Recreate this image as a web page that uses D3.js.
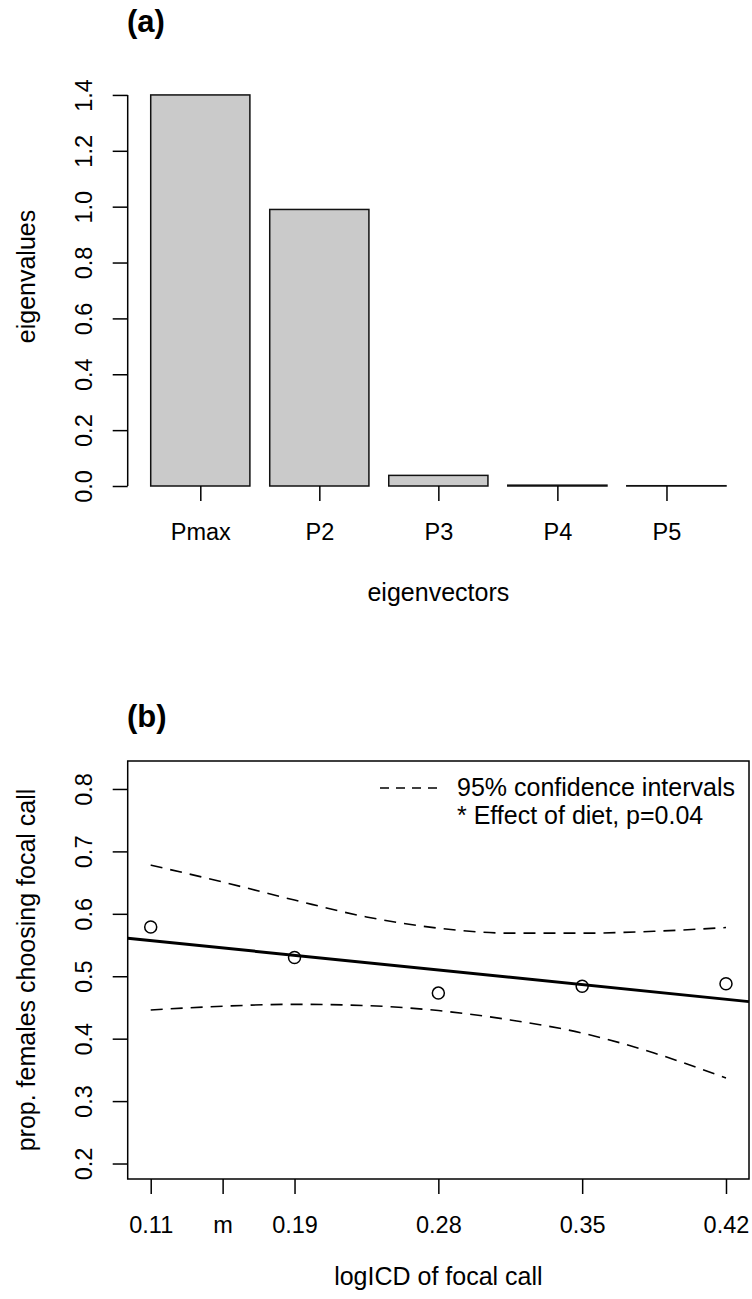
<!DOCTYPE html>
<html>
<head>
<meta charset="utf-8">
<script src="https://cdn.jsdelivr.net/npm/d3@7"></script>
<style>
  html, body { margin: 0; padding: 0; background: #fff; }
  svg { display: block; }
  text { font-family: "Liberation Sans", Arial, Helvetica, sans-serif; fill: #000; }
</style>
</head>
<body>
<svg id="chart" width="752" height="1299"></svg>
<script>
// ---- Panel (a): eigenvalues of the selection matrix ----
const eigenvectors = ["Pmax", "P2", "P3", "P4", "P5"];
const eigenvalues = [1.40, 0.99, 0.038, 0.003, 0.001];
const eigTickAt = [0.7, 1.9, 3.1, 4.3, 5.4];
const eigYTicks = [0, 0.2, 0.4, 0.6, 0.8, 1.0, 1.2, 1.4];

// ---- Panel (b): female preference vs. logICD ----
const icdTickAt = [1, 1.5, 2, 3, 4, 5];
const icdLabels = ["0.11", "m", "0.19", "0.28", "0.35", "0.42"];
const pointX = [1, 2, 3, 4, 5];
const propChoosing = [0.579, 0.530, 0.473, 0.484, 0.488];
const ciX = [1, 1.5, 2, 2.5, 3, 3.5, 4, 4.5, 5];
const ciUpper = [0.678, 0.651, 0.622, 0.595, 0.577, 0.569, 0.569, 0.572, 0.578];
const ciLower = [0.446, 0.452, 0.455, 0.453, 0.445, 0.430, 0.409, 0.377, 0.337];
const fitIntercept = 0.5806;
const fitSlope = -0.0235;
const propYTicks = [0.2, 0.3, 0.4, 0.5, 0.6, 0.7, 0.8];
const legendLines = ["95% confidence intervals", "* Effect of diet, p=0.04"];

const TICK_FONT = 23.5;
const LAB_FONT = 25;
const HEAD_FONT = 31;
const svg = d3.select("#chart");
const plotLeft = 127.7, plotRight = 749;

function styleAxis(g) {
  g.attr("font-family", null).attr("font-size", null);
  g.selectAll(".tick line").attr("stroke", "#000").attr("stroke-width", 1.5);
  g.selectAll(".tick text").style("font-size", TICK_FONT + "px");
  g.select(".domain").remove();
}

// ================= Panel (a) =================
const xA = d3.scaleLinear().domain([-0.032, 6.232]).range([plotLeft, plotRight]);
const yA = d3.scaleLinear().domain([0, 1.5]).range([486, 67]);

svg.append("text").attr("x", 127).attr("y", 32)
  .style("font-size", HEAD_FONT + "px").style("font-weight", "bold").text("(a)");

const gA = svg.append("g");
gA.selectAll("rect.bar").data(eigenvalues).join("rect")
  .attr("class", "bar")
  .attr("x", (d, i) => xA(0.2 + 1.2 * i))
  .attr("width", xA(1) - xA(0))
  .attr("y", d => yA(d))
  .attr("height", d => yA(0) - yA(d))
  .attr("fill", "#cacaca").attr("stroke", "#111").attr("stroke-width", 1.5);

// y axis
const yAxisA = gA.append("g").attr("transform", `translate(${plotLeft},0)`)
  .call(d3.axisLeft(yA).tickValues(eigYTicks).tickSize(15).tickFormat(d3.format(".1f")));
styleAxis(yAxisA);
yAxisA.selectAll(".tick text")
  .attr("transform", "rotate(-90)").attr("x", 0).attr("y", -35.7).attr("dy", null)
  .attr("text-anchor", "middle");
gA.append("line").attr("x1", plotLeft).attr("x2", plotLeft)
  .attr("y1", yA(0)).attr("y2", yA(1.4)).attr("stroke", "#000").attr("stroke-width", 1.5);

// x axis (ticks only)
const xAxisA = gA.append("g").attr("transform", `translate(0,${yA(0)})`)
  .call(d3.axisBottom(xA).tickValues(eigTickAt).tickSize(15)
    .tickFormat((d, i) => eigenvectors[i]));
styleAxis(xAxisA);
xAxisA.selectAll(".tick text").attr("y", 54).attr("dy", null);

svg.append("text").attr("x", (plotLeft + plotRight) / 2).attr("y", 601)
  .attr("text-anchor", "middle").style("font-size", LAB_FONT + "px").text("eigenvectors");
svg.append("text").attr("transform", `translate(35,${(yA(0) + yA(1.5)) / 2}) rotate(-90)`)
  .attr("text-anchor", "middle").style("font-size", LAB_FONT + "px").text("eigenvalues");

// ================= Panel (b) =================
const xB = d3.scaleLinear().domain([0.84, 5.16]).range([plotLeft, plotRight]);
const yB = d3.scaleLinear().domain([0.1752, 0.8448]).range([1179, 761]);

svg.append("text").attr("x", 127).attr("y", 727)
  .style("font-size", HEAD_FONT + "px").style("font-weight", "bold").text("(b)");

const gB = svg.append("g");
gB.append("rect").attr("x", plotLeft).attr("y", yB(0.8448))
  .attr("width", plotRight - plotLeft).attr("height", yB(0.1752) - yB(0.8448))
  .attr("fill", "none").attr("stroke", "#000").attr("stroke-width", 1.5);

const yAxisB = gB.append("g").attr("transform", `translate(${plotLeft},0)`)
  .call(d3.axisLeft(yB).tickValues(propYTicks).tickSize(15).tickFormat(d3.format(".1f")));
styleAxis(yAxisB);
yAxisB.selectAll(".tick text")
  .attr("transform", "rotate(-90)").attr("x", 0).attr("y", -35.7).attr("dy", null)
  .attr("text-anchor", "middle");

const xAxisB = gB.append("g").attr("transform", `translate(0,${yB(0.1752)})`)
  .call(d3.axisBottom(xB).tickValues(icdTickAt).tickSize(15)
    .tickFormat((d, i) => icdLabels[i]));
styleAxis(xAxisB);
xAxisB.selectAll(".tick text").attr("y", 54).attr("dy", null);

// confidence bands
const ciLine = d3.line().x(d => xB(d[0])).y(d => yB(d[1])).curve(d3.curveMonotoneX);
[ciUpper, ciLower].forEach(arr => {
  gB.append("path").attr("d", ciLine(ciX.map((x, i) => [x, arr[i]])))
    .attr("fill", "none").attr("stroke", "#000").attr("stroke-width", 1.6)
    .attr("stroke-dasharray", "12,8");
});

// fitted regression line across the plot region
const [x0, x1] = xB.domain();
gB.append("line")
  .attr("x1", xB(x0)).attr("y1", yB(fitIntercept + fitSlope * x0))
  .attr("x2", xB(x1)).attr("y2", yB(fitIntercept + fitSlope * x1))
  .attr("stroke", "#000").attr("stroke-width", 3);

// observed proportions
gB.selectAll("circle.pt").data(propChoosing).join("circle")
  .attr("class", "pt")
  .attr("cx", (d, i) => xB(pointX[i])).attr("cy", d => yB(d))
  .attr("r", 6).attr("fill", "none").attr("stroke", "#000").attr("stroke-width", 1.5);

// legend
gB.append("line").attr("x1", 380).attr("x2", 438).attr("y1", 788).attr("y2", 788)
  .attr("stroke", "#000").attr("stroke-width", 1.5).attr("stroke-dasharray", "9,7");
legendLines.forEach((t, i) => {
  gB.append("text").attr("x", 457).attr("y", 796 + i * 28)
    .style("font-size", LAB_FONT + "px").text(t);
});

svg.append("text").attr("x", (plotLeft + plotRight) / 2).attr("y", 1285)
  .attr("text-anchor", "middle").style("font-size", LAB_FONT + "px").text("logICD of focal call");
svg.append("text").attr("transform", `translate(35,${(yB(0.1752) + yB(0.8448)) / 2}) rotate(-90)`)
  .attr("text-anchor", "middle").style("font-size", LAB_FONT + "px").text("prop. females choosing focal call");
</script>
</body>
</html>
